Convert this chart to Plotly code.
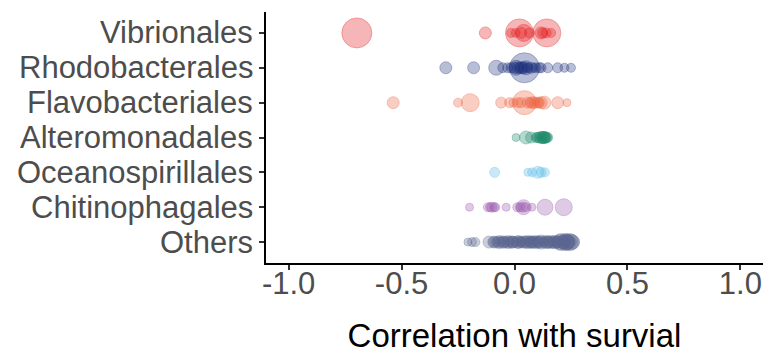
import plotly.graph_objects as go

categories = ["Vibrionales", "Rhodobacterales", "Flavobacteriales", "Alteromonadales",
              "Oceanospirillales", "Chitinophagales", "Others"]
colors = ["#E41A1C", "#22337F", "#EE6440", "#1B8A6B", "#5BBCEA", "#9B59B0", "#5A6690"]

vib_x = [-0.698, -0.129, 0.022, -0.015, 0.041, 0.066, 0.143, 0.118, 0.140, 0.162, 0.005, 0.030, 0.125]
vib_s = [30, 12, 28, 9, 17, 10, 28, 12, 10, 9, 9, 11, 10]

rho_x = [-0.304, -0.181, -0.081, -0.052, 0.044, -0.015, 0.007, 0.029, 0.051, 0.073, 0.096, 0.118,
         0.147, 0.191, 0.221, 0.250, 0.000, 0.020, 0.040, 0.060, 0.085, 0.110, -0.030, 0.015, 0.035, 0.055]
rho_s = [12, 12, 15, 10, 30, 10, 15, 12, 14, 11, 10, 10, 10, 10, 9, 9, 11, 10, 12, 10, 9, 10, 10, 12, 11, 9]

fla_x = [-0.537, -0.250, -0.196, -0.059, -0.022, 0.044, 0.015, 0.059, 0.081, 0.103, 0.118, 0.132,
         0.191, 0.232, 0.030, 0.070, 0.090, 0.110, -0.005]
fla_s = [12, 9, 18, 11, 10, 24, 10, 11, 12, 11, 12, 13, 12, 8, 10, 10, 11, 10, 9]

alt_x = [0.007, 0.051, 0.073, 0.096, 0.118, 0.132, 0.147, 0.110, 0.125, 0.140, 0.100, 0.128, 0.137]
alt_s = [8, 13, 11, 10, 12, 12, 10, 11, 12, 11, 10, 12, 11]

oce_x = [-0.088, 0.059, 0.078, 0.103, 0.118, 0.135]
oce_s = [10, 8, 9, 12, 10, 9]

chi_x = [-0.199, -0.118, -0.100, -0.085, -0.037, 0.012, 0.040, 0.037, 0.077, 0.135, 0.218, -0.108, -0.090, 0.050, 0.025]
chi_s = [8, 9, 10, 9, 8, 9, 15, 10, 8, 16, 17, 9, 9, 9, 9]

oth_x = [-0.206, -0.188, -0.173, -0.113, -0.094, -0.083, -0.071, -0.062, -0.051, -0.043, -0.031, -0.022,
         -0.012, -0.004, 0.006, 0.013, 0.024, 0.033, 0.047, 0.052, 0.066, 0.074, 0.083, 0.097, 0.104,
         0.118, 0.127, 0.133, 0.146, 0.154, 0.167, 0.173, 0.186, 0.193, 0.206, 0.214, 0.226, 0.233,
         0.243, 0.251, 0.257, 0.028, 0.071, 0.101, 0.162, 0.201, 0.229,
         -0.088, -0.067, -0.046, -0.027, -0.008, 0.018, 0.039, 0.058, 0.079, 0.092, 0.111, 0.139,
         0.149, 0.178, 0.189, 0.219, 0.238, 0.247]
oth_s = [8, 9, 9, 12, 11, 10, 11, 10, 12, 10, 11, 10, 12, 11, 10, 12, 11, 10, 12, 11, 10, 12, 11, 10, 12,
         14, 11, 10, 12, 11, 10, 12, 11, 12, 17, 13, 17, 15, 17, 16, 14, 10, 12, 11, 13, 15, 16,
         12, 13, 12, 13, 12, 13, 12, 13, 12, 13, 12, 13, 12, 13, 12, 14, 13, 12]

xs = [vib_x, rho_x, fla_x, alt_x, oce_x, chi_x, oth_x]
ss = [vib_s, rho_s, fla_s, alt_s, oce_s, chi_s, oth_s]


def rgba(h, a):
    h = h.lstrip("#")
    r, g, b = int(h[0:2], 16), int(h[2:4], 16), int(h[4:6], 16)
    return f"rgba({r},{g},{b},{a})"


fig = go.Figure()
for cat, col, x, s in zip(categories, colors, xs, ss):
    fig.add_trace(go.Scatter(
        x=x, y=[cat] * len(x), mode="markers", name=cat, showlegend=False,
        marker=dict(size=s, color=rgba(col, 0.45), line=dict(color=rgba(col, 0.5), width=1)),
    ))

font_fam = "Arial, 'Liberation Sans', Helvetica, sans-serif"

# y tick labels as annotations (plotly would hide overlapping large labels)
for cat in categories:
    fig.add_annotation(
        x=0, xref="paper", y=cat, yref="y", text=cat, showarrow=False,
        xanchor="right", yanchor="middle", xshift=-11,
        font=dict(size=31, color="#4D4D4D", family=font_fam),
    )

fig.update_layout(
    width=767, height=354,
    margin=dict(l=266, r=4, t=12, b=91, autoexpand=False),
    plot_bgcolor="white", paper_bgcolor="white",
    font=dict(family=font_fam),
    xaxis=dict(
        range=[-1.1, 1.1], tickvals=[-1.0, -0.5, 0.0, 0.5, 1.0],
        ticktext=["-1.0", "-0.5", "0.0", "0.5", "1.0"],
        showgrid=False, zeroline=False, showline=True, linecolor="black", linewidth=2,
        ticks="outside", ticklen=5, tickwidth=1.5, tickcolor="#333333",
        ticklabelstandoff=-13, automargin=False,
        tickfont=dict(size=31, color="#4D4D4D", family=font_fam),
        title=dict(text="Correlation with survial", font=dict(size=33, color="black", family=font_fam),
                   standoff=29),
    ),
    yaxis=dict(
        categoryorder="array", categoryarray=categories[::-1], range=[-0.6, 6.6],
        showgrid=False, zeroline=False, showline=True, linecolor="black", linewidth=2,
        ticks="outside", ticklen=5, tickwidth=1.5, tickcolor="#333333",
        showticklabels=False, automargin=False,
    ),
)

fig.write_html("out.html")
